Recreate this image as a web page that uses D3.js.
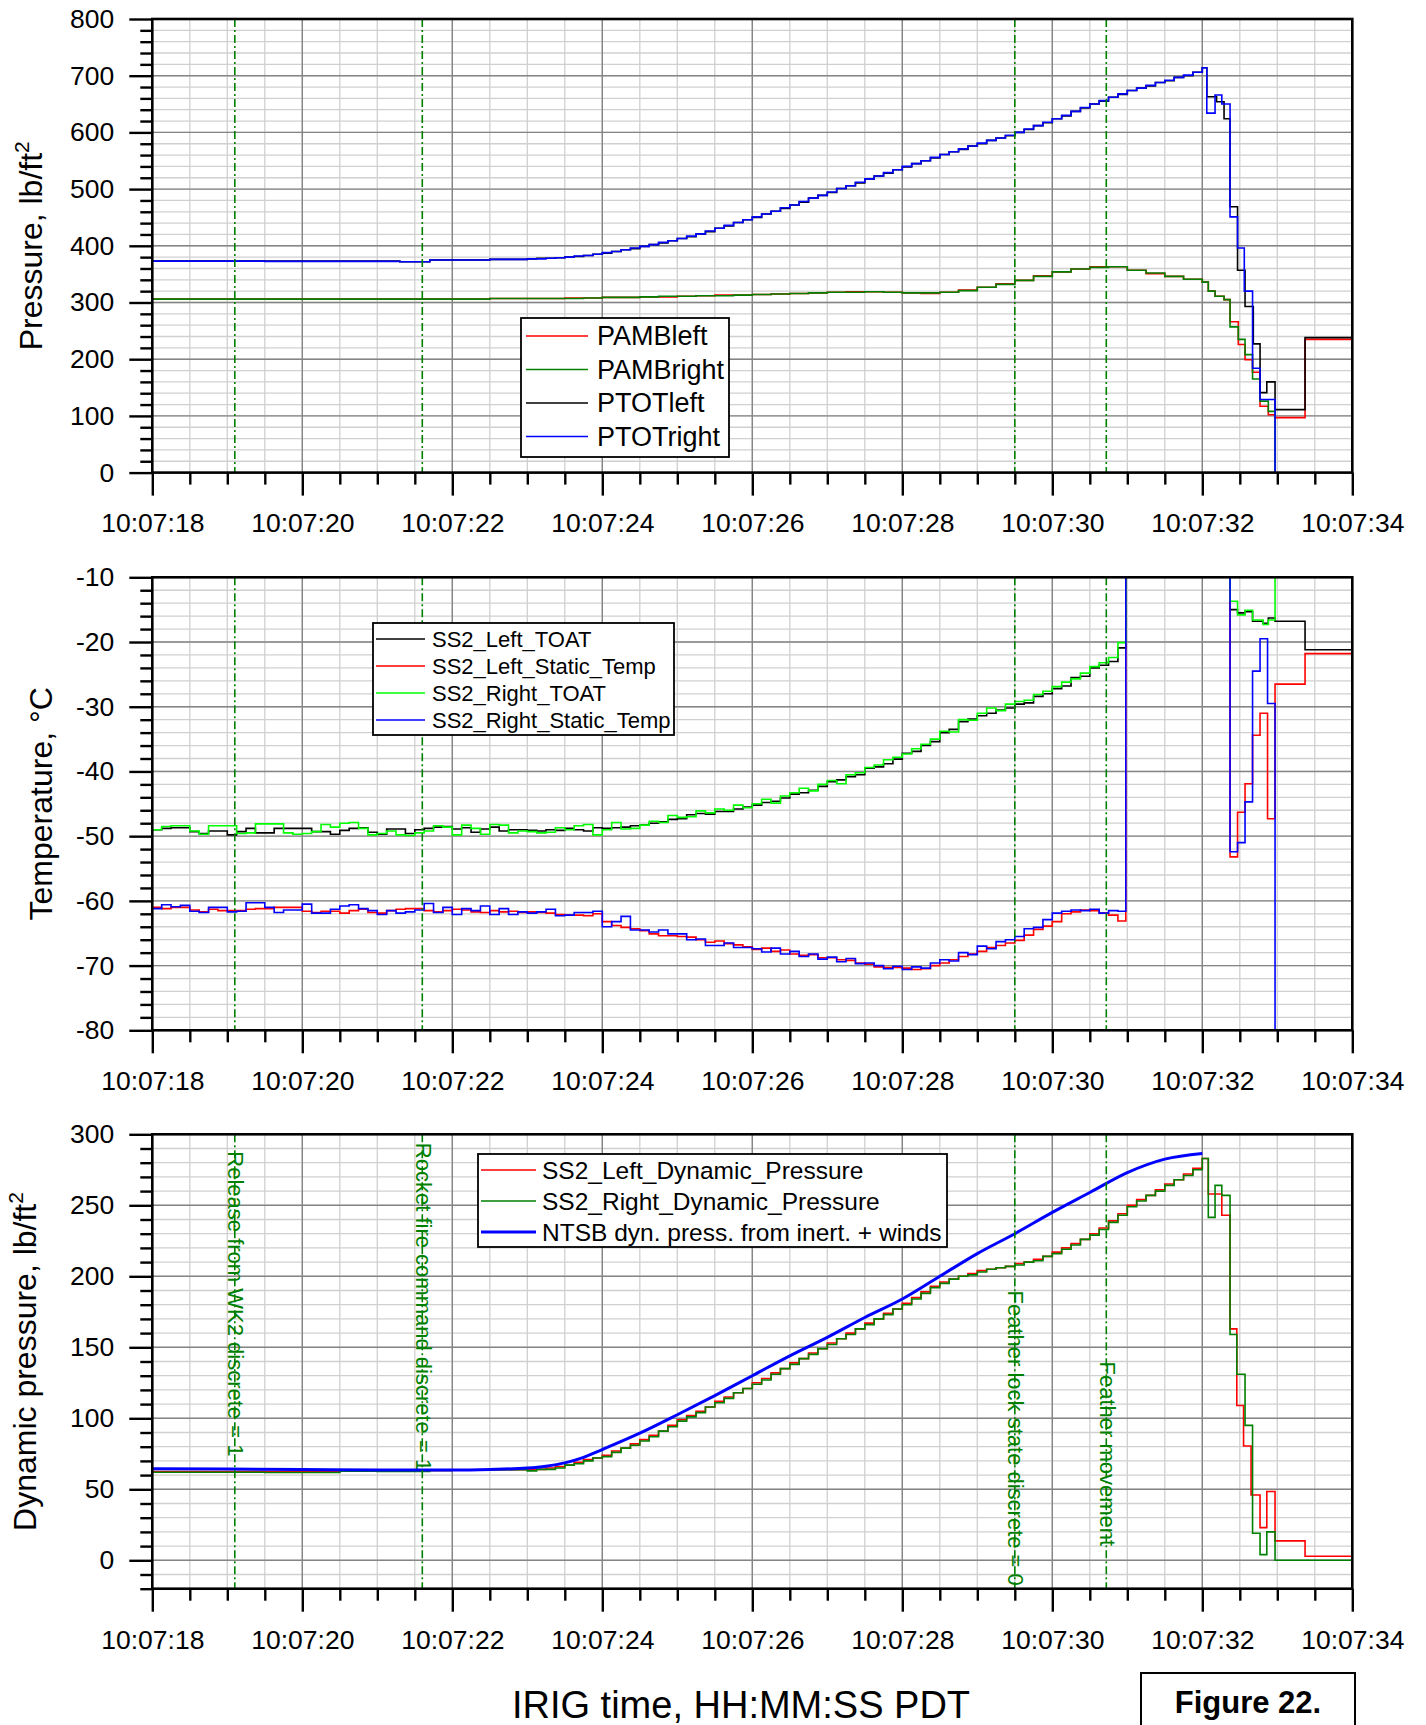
<!DOCTYPE html>
<html>
<head>
<meta charset="utf-8">
<script src="https://d3js.org/d3.v7.min.js"></script>
<style>
body { margin: 0; background: #fff; }
svg { display: block; }
</style>
</head>
<body>
<script>
const W = 1426, H = 1725;
const font = '"Liberation Sans", Arial, sans-serif';

// ---- time axis ----
const timeTicks = [18, 20, 22, 24, 26, 28, 30, 32, 34];
const timeLabels = ['10:07:18', '10:07:20', '10:07:22', '10:07:24', '10:07:26', '10:07:28', '10:07:30', '10:07:32', '10:07:34'];
const eventTimes = [19.10, 21.60, 29.50, 30.72];
const eventLabels = ['Release from WK2 discrete = 1', 'Rocket fire command discrete = 1', 'Feather lock state discrete = 0', 'Feather movement'];
const eventLabelAt = [288, 294, 190, 140]; // dynamic pressure value where each label starts

// ---- panel 1: pressure, lb/ft2 ----
const ptotRightFlat = [[18, 373], [19.5, 372.5], [21.3, 372], [21.7, 375], [22.5, 376]];
const ptotRightClimb = [ // from 23.0 s, every 0.125 s
  377, 377, 378, 379, 380, 382, 383, 385,
  388, 390, 393, 396, 399, 402, 406, 409,
  413, 417, 421, 426, 431, 436, 441, 446,
  451, 456, 461, 467, 472, 478, 484, 489,
  495, 501, 506, 512, 518, 523, 529, 534,
  540, 545, 550, 556, 561, 566, 571, 576,
  581, 586, 590, 595, 600, 606, 612, 618,
  624, 630, 637, 644, 650, 656, 662, 668,
  674, 678, 683, 688, 692, 697, 701, 706,
  712];
const ptotRightTail = [[32.0, 714], [32.06, 634], [32.17, 666], [32.26, 650], [32.37, 451], [32.47, 396], [32.56, 320], [32.67, 184], [32.77, 129], [32.97, -60], [34, -60]];
const ptotLeftFlat = [[18, 373], [19.5, 373], [21.3, 372], [21.7, 375], [22.5, 376]];
const ptotLeftClimb = [
  377, 378, 378, 379, 380, 381, 383, 385,
  387, 390, 393, 395, 399, 402, 405, 409,
  413, 416, 421, 425, 431, 435, 441, 446,
  450, 456, 461, 466, 472, 477, 484, 489,
  494, 501, 506, 511, 518, 523, 528, 534,
  539, 545, 550, 555, 561, 566, 570, 576,
  580, 586, 590, 594, 600, 605, 612, 617,
  624, 629, 637, 643, 650, 655, 662, 667,
  674, 678, 682, 688, 691, 697, 700, 706,
  711];
const ptotLeftTail = [[32.0, 714], [32.06, 663], [32.19, 654], [32.29, 624], [32.37, 469], [32.47, 357], [32.57, 293], [32.68, 227], [32.77, 141], [32.86, 160], [32.97, 111], [33.37, 238], [34, 238]];
const pambFlat = [[18, 306], [22, 306], [22.5, 307]];
const pambLeftClimb = [ // from 23.0 s, every 0.25 s
  307, 307, 308, 308, 309, 309, 310, 310,
  311, 312, 313, 313, 314, 315, 316, 317,
  318, 319, 319, 318, 317, 316, 318, 322,
  327, 333, 339, 347, 354, 359, 363, 363,
  357, 351, 346, 341, 336];
const pambRightClimb = [
  307, 307, 307, 308, 309, 309, 310, 311,
  311, 312, 312, 313, 314, 315, 316, 317,
  318, 318, 319, 318, 317, 317, 318, 321,
  327, 332, 339, 346, 354, 359, 362, 363,
  357, 352, 346, 341, 336];
const pambLeftTail = [[32.08, 320], [32.17, 311], [32.29, 305], [32.37, 266], [32.48, 226], [32.57, 199], [32.67, 177], [32.77, 117], [32.88, 102], [32.97, 97], [33.37, 235], [34, 235]];
const pambRightTail = [[32.08, 320], [32.17, 311], [32.29, 305], [32.37, 257], [32.48, 235], [32.57, 208], [32.67, 165], [32.77, 126], [32.88, 108], [32.97, -60], [34, -60]];

// ---- panel 2: temperature, deg C (from 18.0 s, every 0.125 s) ----
const leftToat = [
  -49.0, -48.8, -48.7, -48.7, -49.3, -49.6, -49.2, -49.2,
  -49.8, -49.3, -48.8, -49.5, -49.5, -48.8, -48.8, -48.8,
  -48.8, -49.3, -49.3, -49.7, -49.1, -48.8, -48.7, -49.4,
  -49.7, -48.9, -48.9, -49.6, -49.0, -48.8, -48.6, -48.5,
  -48.9, -48.7, -49.4, -48.9, -48.6, -49.2, -49.0, -49.0,
  -49.1, -49.2, -49.0, -49.1, -48.8, -49.0, -49.2, -48.7,
  -48.8, -48.7, -48.6, -48.4, -48.3, -48.0, -47.8, -47.4,
  -47.3, -46.7, -46.5, -46.6, -46.2, -46.2, -45.8, -45.5,
  -45.2, -44.8, -44.6, -44.1, -43.5, -43.3, -42.9, -42.3,
  -41.6, -41.3, -40.8, -40.5, -39.5, -39.3, -38.8, -38.1,
  -37.2, -36.9, -36.0, -35.4, -34.0, -33.5, -32.3, -31.9,
  -31.4, -31.0, -30.5, -30.2, -29.6, -29.4, -28.4, -28.0,
  -27.2, -26.8, -25.5, -25.3, -24.0, -23.6, -23.0, -20.9];
const rightToat = [
  -49.0, -48.5, -48.4, -48.4, -49.2, -49.7, -48.4, -48.4,
  -48.4, -49.6, -49.5, -48.1, -48.1, -48.1, -49.5, -49.7,
  -49.6, -49.3, -48.2, -48.6, -48.0, -47.9, -48.8, -49.8,
  -49.6, -49.2, -49.8, -49.9, -49.5, -49.2, -48.4, -48.6,
  -49.8, -48.3, -48.8, -49.7, -48.2, -48.3, -49.5, -49.2,
  -49.3, -49.5, -49.4, -48.7, -49.0, -48.4, -48.2, -49.8,
  -49.0, -47.9, -48.9, -48.8, -48.3, -47.7, -47.9, -46.8,
  -47.1, -47.0, -46.1, -46.4, -45.8, -46.0, -45.2, -45.6,
  -45.0, -44.3, -44.9, -43.8, -43.3, -42.6, -43.0, -42.0,
  -41.4, -41.9, -40.5, -40.2, -39.4, -39.0, -38.2, -37.8,
  -37.3, -36.5, -35.8, -35.0, -33.8, -33.9, -32.0, -32.1,
  -31.0, -30.2, -30.6, -29.6, -29.2, -29.0, -28.1, -27.6,
  -26.9, -26.2, -25.7, -24.8, -23.8, -23.2, -22.4, -20.1];
const leftStatic = [
  -61.0, -61.2, -61.0, -61.0, -61.4, -61.7, -61.3, -61.5,
  -61.5, -61.5, -61.3, -61.2, -61.2, -61.0, -61.0, -61.0,
  -61.6, -61.8, -61.6, -61.6, -61.9, -61.5, -61.3, -61.8,
  -61.9, -61.5, -61.3, -61.2, -61.2, -61.5, -61.7, -61.5,
  -61.3, -61.4, -61.7, -61.8, -61.5, -61.7, -61.6, -61.8,
  -61.7, -61.8, -61.9, -62.1, -62.2, -62.2, -62.3, -62.0,
  -63.2, -63.8, -64.1, -64.3, -64.6, -65.1, -65.4, -65.4,
  -65.5, -65.6, -66.0, -66.4, -66.2, -66.6, -66.8, -67.1,
  -67.5, -67.3, -67.8, -67.6, -68.2, -68.4, -68.3, -68.8,
  -68.8, -69.1, -69.2, -69.6, -69.8, -70.2, -70.3, -70.3,
  -70.4, -70.6, -70.5, -70.0, -69.6, -69.1, -68.6, -68.2,
  -67.8, -67.2, -66.9, -66.5, -66.1, -65.3, -64.4, -63.9,
  -63.2, -62.0, -61.7, -61.4, -61.5, -61.9, -62.2, -63.1];
const rightStatic = [
  -61.2, -60.6, -60.9, -60.7, -61.6, -61.8, -61.0, -61.0,
  -61.7, -61.6, -60.3, -60.3, -61.0, -61.8, -61.4, -61.4,
  -60.5, -61.9, -61.9, -61.3, -60.8, -60.6, -61.2, -61.5,
  -62.1, -61.5, -61.9, -61.7, -61.4, -60.4, -61.8, -61.0,
  -62.1, -61.2, -61.5, -60.8, -62.1, -61.2, -62.1, -61.7,
  -61.9, -61.7, -61.3, -62.3, -62.2, -61.8, -61.8, -61.6,
  -64.0, -63.2, -62.4, -64.5, -64.5, -64.8, -64.5, -65.1,
  -65.1, -66.0, -65.9, -66.9, -66.9, -66.5, -67.2, -67.2,
  -67.4, -67.9, -67.3, -68.2, -67.8, -68.6, -68.2, -69.0,
  -68.7, -69.4, -68.9, -69.7, -69.6, -70.0, -70.5, -70.1,
  -70.6, -70.2, -70.4, -69.6, -69.1, -69.3, -68.0, -68.3,
  -67.0, -67.4, -66.3, -66.0, -65.5, -64.3, -64.1, -62.9,
  -61.9, -61.6, -61.4, -61.5, -61.3, -61.9, -61.5, -61.6];
const leftToatTail = [[30.98, 10], [32.37, -15.0], [32.47, -15.5], [32.57, -15.3], [32.67, -16.8], [32.81, -17.1], [32.88, -16.3], [32.97, -16.8], [33.37, -21.2], [34, -21.2]];
const rightToatTail = [[30.98, 10], [32.37, -13.7], [32.47, -15.8], [32.57, -15.1], [32.67, -16.6], [32.81, -17.3], [32.88, -16.6], [32.97, 10], [34, 10]];
const leftStaticTail = [[30.98, 10], [32.37, -53.2], [32.47, -46.3], [32.57, -41.9], [32.67, -34.4], [32.77, -31.0], [32.87, -47.3], [32.97, -26.5], [33.37, -21.8], [34, -21.8]];
const rightStaticTail = [[30.98, 10], [32.37, -52.4], [32.47, -51.0], [32.57, -44.7], [32.67, -24.5], [32.77, -19.5], [32.87, -29.5], [32.97, -90], [34, -90]];

// ---- panel 3: dynamic pressure, lb/ft2 ----
const dynLeftFlat = [[18, 62.5], [19.5, 62.3], [20.5, 63.0], [21.5, 63.3], [22, 63.5], [22.5, 63.8]];
const dynRightFlat = [[18, 62.0], [19.5, 61.8], [20.5, 62.8], [21, 62.5], [21.7, 63.2], [22, 63.5], [22.5, 63.8]];
const dynLeftClimb = [ // from 23.0 s, every 0.125 s
  64, 64, 65, 66, 67, 69, 71, 72,
  74, 77, 79, 82, 85, 88, 91, 95,
  99, 102, 105, 108, 112, 115, 118, 121,
  125, 128, 132, 135, 139, 142, 146, 149,
  153, 156, 160, 163, 167, 170, 174, 177,
  181, 185, 189, 193, 196, 198, 200, 202,
  204, 205, 206, 207, 209, 210, 212, 214,
  217, 220, 223, 226, 230, 234, 239, 244,
  250, 254, 257, 261, 265, 268, 272, 276,
  281];
const dynRightClimb = [
  63, 64, 64, 65, 67, 68, 70, 72,
  73, 76, 79, 81, 84, 87, 91, 94,
  98, 101, 104, 108, 111, 114, 118, 121,
  124, 127, 131, 135, 138, 142, 145, 149,
  152, 156, 159, 163, 166, 170, 173, 177,
  180, 184, 188, 192, 195, 198, 200, 201,
  203, 205, 206, 207, 208, 210, 211, 214,
  216, 219, 222, 226, 229, 233, 238, 243,
  249, 253, 257, 260, 264, 268, 271, 275,
  280];
const dynLeftTail = [[32.0, 283], [32.08, 258], [32.26, 243], [32.37, 163], [32.46, 109], [32.55, 80.5], [32.65, 46], [32.77, 23], [32.86, 48.5], [32.97, 13.7], [33.37, 2.8], [34, 2.8]];
const dynRightTail = [[32.0, 283], [32.08, 241.5], [32.17, 264], [32.26, 257], [32.37, 159], [32.46, 131], [32.57, 95], [32.67, 19], [32.77, 4], [32.86, 20], [32.97, 0], [34, 0]];
const ntsbDyn = [[18, 64.5], [19, 64.3], [20, 64.0], [21, 63.6], [22, 63.6], [22.5, 64.0], [23, 65.0], [23.25, 66.3], [23.5, 68.6], [23.75, 72.5], [24, 78], [24.5, 89.5], [25, 102.5], [25.5, 116], [26, 130], [26.5, 144], [27, 157], [27.5, 171], [28, 184], [28.5, 200], [29, 216], [29.5, 230], [30, 245], [30.5, 259], [31, 273], [31.5, 282.5], [32, 286.5]];

function seq(t0, dt, vals) { return vals.map((v, i) => [t0 + i * dt, v]); }

const svg = d3.select('body').append('svg')
  .attr('width', W).attr('height', H)
  .style('font-family', font);

svg.append('rect').attr('width', W).attr('height', H).attr('fill', 'white');

const x = d3.scaleLinear().domain([18, 34]).range([152.3, 1352.3]);
const x0 = x.range()[0], x1 = x.range()[1];

const panels = [
  {
    id: 'p1', top: 19, bottom: 472.6, domain: [0, 800],
    majors: d3.range(0, 801, 100), minors: d3.range(0, 801, 20),
    title: 'Pressure, lb/ft', sup: '2', titleX: 42,
    series: [
      {name: 'PAMBleft', color: '#ff0000', width: 1.6, data: [...pambFlat, ...seq(23, 0.25, pambLeftClimb), ...pambLeftTail]},
      {name: 'PAMBright', color: '#008000', width: 1.6, data: [...pambFlat, ...seq(23, 0.25, pambRightClimb), ...pambRightTail]},
      {name: 'PTOTleft', color: '#000000', width: 1.6, data: [...ptotLeftFlat, ...seq(23, 0.125, ptotLeftClimb), ...ptotLeftTail]},
      {name: 'PTOTright', color: '#0000ff', width: 1.6, data: [...ptotRightFlat, ...seq(23, 0.125, ptotRightClimb), ...ptotRightTail]}
    ],
    legend: {x: 521, y: 318, w: 208, h: 139, row0: 336, rowGap: 33.5, lineX: [526, 588], textX: 597, size: 27}
  },
  {
    id: 'p2', top: 577.3, bottom: 1030.3, domain: [-80, -10],
    majors: d3.range(-80, -9, 10), minors: d3.range(-80, -9, 2),
    title: 'Temperature, °C', sup: '', titleX: 52,
    series: [
      {name: 'SS2_Left_TOAT', color: '#000000', width: 1.6, data: [...seq(18, 0.125, leftToat), ...leftToatTail]},
      {name: 'SS2_Left_Static_Temp', color: '#ff0000', width: 1.6, data: [...seq(18, 0.125, leftStatic), ...leftStaticTail]},
      {name: 'SS2_Right_TOAT', color: '#00ff00', width: 1.6, data: [...seq(18, 0.125, rightToat), ...rightToatTail]},
      {name: 'SS2_Right_Static_Temp', color: '#0000ff', width: 1.6, data: [...seq(18, 0.125, rightStatic), ...rightStaticTail]}
    ],
    legend: {x: 373, y: 623, w: 301, h: 112, row0: 639, rowGap: 27, lineX: [376, 425], textX: 432, size: 22}
  },
  {
    id: 'p3', top: 1134.3, bottom: 1588.7, domain: [-20, 300],
    majors: d3.range(0, 301, 50), minors: d3.range(-20, 301, 10),
    title: 'Dynamic pressure, lb/ft', sup: '2', titleX: 36,
    series: [
      {name: 'SS2_Left_Dynamic_Pressure', color: '#ff0000', width: 1.6, data: [...dynLeftFlat, ...seq(23, 0.125, dynLeftClimb), ...dynLeftTail]},
      {name: 'SS2_Right_Dynamic_Pressure', color: '#008000', width: 1.6, data: [...dynRightFlat, ...seq(23, 0.125, dynRightClimb), ...dynRightTail]},
      {name: 'NTSB dyn. press. from inert. + winds', color: '#0000ff', width: 3, smooth: true, data: ntsbDyn}
    ],
    legend: {x: 478, y: 1154, w: 469, h: 93, row0: 1170, rowGap: 31, lineX: [481, 536], textX: 542, size: 24.5},
    annotate: true
  }
];

const defs = svg.append('defs');

panels.forEach(p => {
  const y = d3.scaleLinear().domain(p.domain).range([p.bottom, p.top]);
  const g = svg.append('g').attr('class', p.id);

  defs.append('clipPath').attr('id', 'clip-' + p.id)
    .append('rect')
    .attr('x', x0).attr('y', p.top)
    .attr('width', x1 - x0).attr('height', p.bottom - p.top);

  // minor grid
  const grid = g.append('g');
  grid.selectAll('.vmin').data(d3.range(18, 34.01, 0.5)).enter().append('line')
    .attr('x1', d => x(d)).attr('x2', d => x(d))
    .attr('y1', p.top).attr('y2', p.bottom)
    .attr('stroke', '#d0d0d0').attr('stroke-width', 1.3);
  grid.selectAll('.hmin').data(p.minors).enter().append('line')
    .attr('x1', x0).attr('x2', x1)
    .attr('y1', d => y(d)).attr('y2', d => y(d))
    .attr('stroke', '#d0d0d0').attr('stroke-width', 1.3);
  // major grid
  grid.selectAll('.vmaj').data(timeTicks).enter().append('line')
    .attr('x1', d => x(d)).attr('x2', d => x(d))
    .attr('y1', p.top).attr('y2', p.bottom)
    .attr('stroke', '#858585').attr('stroke-width', 1.4);
  grid.selectAll('.hmaj').data(p.majors).enter().append('line')
    .attr('x1', x0).attr('x2', x1)
    .attr('y1', d => y(d)).attr('y2', d => y(d))
    .attr('stroke', '#858585').attr('stroke-width', 1.4);

  // event annotations (panel 3)
  if (p.annotate) {
    g.selectAll('.evtext').data(eventTimes).enter().append('text')
      .attr('transform', (d, i) => `translate(${x(d) + 1},${y(eventLabelAt[i])}) rotate(90)`)
      .attr('dominant-baseline', 'central')
      .attr('font-size', 22)
      .attr('fill', '#008000')
      .text((d, i) => eventLabels[i]);
  }

  // data
  const dataG = g.append('g').attr('clip-path', `url(#clip-${p.id})`);
  p.series.forEach(s => {
    const line = d3.line()
      .curve(s.smooth ? d3.curveMonotoneX : d3.curveStepAfter)
      .x(d => x(d[0])).y(d => y(d[1]));
    dataG.append('path')
      .datum(s.data)
      .attr('d', line)
      .attr('fill', 'none')
      .attr('stroke', s.color)
      .attr('stroke-width', s.width)
      .attr('stroke-linejoin', 'miter');
  });

  // event lines
  g.selectAll('.ev').data(eventTimes).enter().append('line')
    .attr('x1', d => x(d)).attr('x2', d => x(d))
    .attr('y1', p.top).attr('y2', p.bottom)
    .attr('stroke', '#008000').attr('stroke-width', 1.6)
    .attr('stroke-dasharray', '8,3,2,3');

  // frame
  g.append('rect')
    .attr('x', x0).attr('y', p.top)
    .attr('width', x1 - x0).attr('height', p.bottom - p.top)
    .attr('fill', 'none').attr('stroke', '#000').attr('stroke-width', 2.6);

  // axes
  const styleAxis = a => {
    a.select('.domain').remove();
    a.selectAll('line').attr('stroke', '#000').attr('stroke-width', 2.4);
    a.selectAll('text').attr('font-size', 26.5).attr('font-family', font).attr('fill', '#000');
  };
  g.append('g').attr('transform', `translate(${x0},0)`)
    .call(d3.axisLeft(y).tickValues(p.minors.filter(v => !p.majors.includes(v))).tickSize(12).tickFormat(''))
    .call(styleAxis);
  g.append('g').attr('transform', `translate(${x0},0)`)
    .call(d3.axisLeft(y).tickValues(p.majors).tickSize(23).tickPadding(15).tickFormat(d => String(d)))
    .call(styleAxis);
  g.append('g').attr('transform', `translate(0,${p.bottom})`)
    .call(d3.axisBottom(x).tickValues(d3.range(18, 34.01, 0.5).filter(v => !timeTicks.includes(v))).tickSize(12).tickFormat(''))
    .call(styleAxis);
  g.append('g').attr('transform', `translate(0,${p.bottom})`)
    .call(d3.axisBottom(x).tickValues(timeTicks).tickSize(23).tickPadding(18).tickFormat((d, i) => timeLabels[i]))
    .call(styleAxis);

  // y title
  const title = g.append('text')
    .attr('transform', `translate(${p.titleX},${(p.top + p.bottom) / 2}) rotate(-90)`)
    .attr('text-anchor', 'middle')
    .attr('font-size', 32)
    .attr('fill', '#000')
    .text(p.title);
  if (p.sup) {
    title.append('tspan').attr('dy', -13).attr('font-size', 21).text(p.sup);
  }

  // legend
  const L = p.legend;
  const lg = g.append('g');
  lg.append('rect')
    .attr('x', L.x).attr('y', L.y).attr('width', L.w).attr('height', L.h)
    .attr('fill', 'white').attr('stroke', '#000').attr('stroke-width', 1.8);
  p.series.forEach((s, r) => {
    const yy = L.row0 + r * L.rowGap;
    lg.append('line')
      .attr('x1', L.lineX[0]).attr('x2', L.lineX[1])
      .attr('y1', yy).attr('y2', yy)
      .attr('stroke', s.color).attr('stroke-width', s.width);
    lg.append('text')
      .attr('x', L.textX).attr('y', yy + L.size * 0.35)
      .attr('font-size', L.size).attr('fill', '#000')
      .text(s.name);
  });
});

// x title and figure label
svg.append('text')
  .attr('x', 741).attr('y', 1718)
  .attr('text-anchor', 'middle')
  .attr('font-size', 38)
  .attr('fill', '#000')
  .text('IRIG time, HH:MM:SS PDT');

svg.append('rect')
  .attr('x', 1141).attr('y', 1673).attr('width', 214).attr('height', 70)
  .attr('fill', 'white').attr('stroke', '#000').attr('stroke-width', 2);
svg.append('text')
  .attr('x', 1248).attr('y', 1713)
  .attr('text-anchor', 'middle')
  .attr('font-size', 31).attr('font-weight', 'bold')
  .attr('fill', '#000')
  .text('Figure 22.');
</script>
</body>
</html>
